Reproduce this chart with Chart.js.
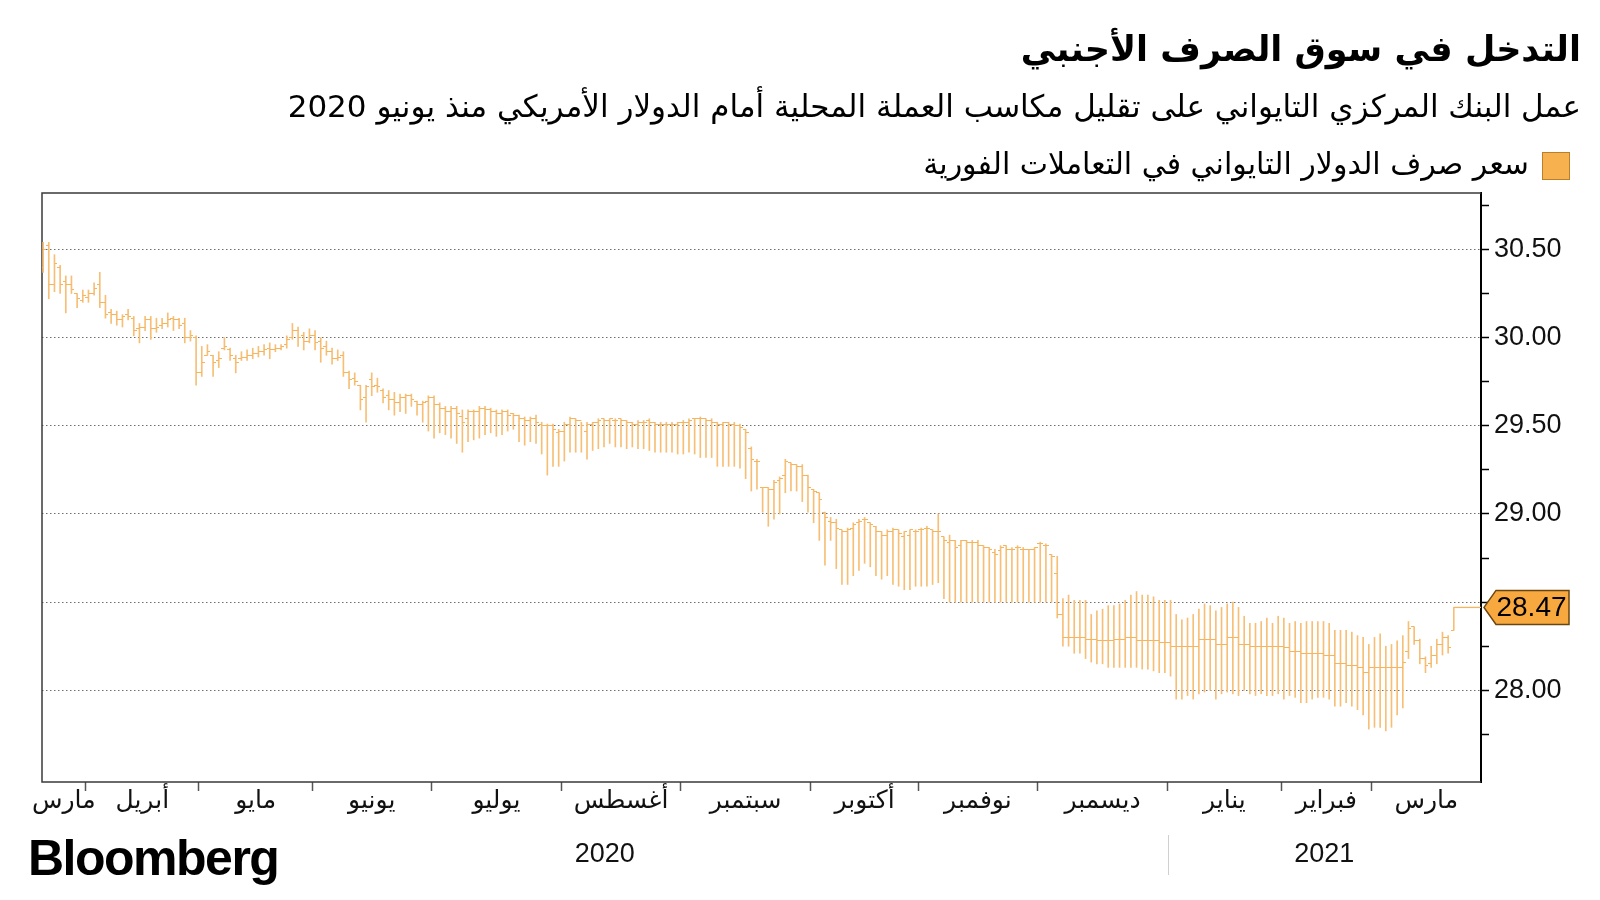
<!DOCTYPE html>
<html><head><meta charset="utf-8">
<script src="https://cdn.jsdelivr.net/npm/chart.js@4.4.1/dist/chart.umd.min.js"></script>
<style>
html,body{margin:0;padding:0;background:#fff;width:1600px;height:900px;overflow:hidden;}
#wrap{position:relative;width:1600px;height:900px;}
#c{position:absolute;left:0;top:0;}
.t{position:absolute;right:19px;direction:rtl;font-family:'DejaVu Sans',sans-serif;color:#000;white-space:nowrap;line-height:1;}
#title{top:32px;font-size:35px;font-weight:bold;}
#sub{top:91px;font-size:31px;}
#legend{top:149px;font-size:30px;right:30px;}
#legend .sw{display:inline-block;width:28px;height:28px;background:#f7b24f;border:1.5px solid #b97f2a;vertical-align:middle;margin-left:13px;box-sizing:border-box;}
#logo{position:absolute;left:28px;top:833px;font-family:'Liberation Sans',Arial,sans-serif;font-weight:bold;font-size:50px;letter-spacing:-1.5px;line-height:1;color:#000;}
</style></head>
<body><div id="wrap">
<canvas id="c" width="1600" height="900"></canvas>
<div class="t" id="title">التدخل في سوق الصرف الأجنبي</div>
<div class="t" id="sub">عمل البنك المركزي التايواني على تقليل مكاسب العملة المحلية أمام الدولار الأمريكي منذ يونيو 2020</div>
<div class="t" id="legend"><span class="sw"></span>سعر صرف الدولار التايواني في التعاملات الفورية</div>
<div id="logo">Bloomberg</div>
</div>
<script>
const months = ['مارس','أبريل','مايو','يونيو','يوليو','أغسطس','سبتمبر','أكتوبر','نوفمبر','ديسمبر','يناير','فبراير','مارس'];
const monthDays = [8,20,20,21,23,21,23,19,21,23,20,16,15];
const years = ['2020','2021'];
const yearMonthCount = [10,3];
const yTicks = [28.00,28.50,29.00,29.50,30.00,30.50];

const high = [
30.54,30.54,30.47,30.41,30.35,30.35,30.25,30.27,30.27,30.31,
30.37,30.24,30.16,30.15,30.13,30.16,30.12,30.08,30.12,30.12,
30.11,30.11,30.14,30.12,30.11,30.11,30.04,30.01,29.95,29.96,
29.90,29.92,30.00,29.94,29.90,29.92,29.93,29.94,29.95,29.96,
29.97,29.96,29.96,30.01,30.08,30.06,30.03,30.05,30.04,30.00,
29.98,29.94,29.93,29.92,29.81,29.80,29.73,29.73,29.80,29.77,
29.71,29.70,29.69,29.68,29.68,29.68,29.64,29.64,29.67,29.67,
29.63,29.61,29.61,29.61,29.59,29.59,29.59,29.61,29.61,29.60,
29.59,29.59,29.59,29.57,29.56,29.55,29.55,29.56,29.52,29.51,
29.51,29.48,29.52,29.55,29.54,29.52,29.52,29.52,29.54,29.54,
29.54,29.54,29.54,29.53,29.52,29.53,29.53,29.54,29.52,29.52,
29.52,29.52,29.52,29.53,29.54,29.54,29.55,29.54,29.54,29.52,
29.52,29.52,29.52,29.51,29.48,29.38,29.31,29.15,29.15,29.19,
29.21,29.31,29.29,29.28,29.28,29.22,29.14,29.12,29.01,28.98,
28.97,28.91,28.92,28.95,28.97,28.98,28.95,28.93,28.90,28.91,
28.92,28.91,28.90,28.91,28.91,28.92,28.93,28.91,29.00,28.87,
28.88,28.85,28.85,28.85,28.85,28.85,28.82,28.81,28.80,28.82,
28.82,28.81,28.82,28.81,28.80,28.81,28.84,28.83,28.77,28.76,
28.52,28.54,28.51,28.51,28.51,28.43,28.45,28.46,28.48,28.48,
28.49,28.51,28.54,28.56,28.54,28.54,28.53,28.51,28.51,28.51,
28.43,28.40,28.41,28.43,28.46,28.49,28.48,28.45,28.47,28.49,
28.50,28.47,28.42,28.38,28.38,28.39,28.41,28.38,28.42,28.41,
28.38,28.39,28.38,28.39,28.39,28.39,28.39,28.38,28.34,28.34,
28.34,28.33,28.31,28.30,28.26,28.30,28.32,28.25,28.26,28.28,
28.31,28.39,28.36,28.29,28.19,28.25,28.29,28.33,28.31,28.47];

const low = [
30.37,30.22,30.26,30.25,30.14,30.25,30.17,30.20,30.20,30.24,
30.17,30.11,30.08,30.07,30.06,30.10,30.01,29.97,30.04,29.99,
30.03,30.05,30.06,30.04,30.05,29.97,29.98,29.73,29.78,29.90,
29.78,29.83,29.93,29.87,29.80,29.87,29.87,29.88,29.89,29.90,
29.88,29.92,29.93,29.94,29.99,29.95,29.93,29.97,29.93,29.86,
29.90,29.85,29.87,29.78,29.71,29.73,29.59,29.52,29.67,29.69,
29.63,29.59,29.56,29.58,29.57,29.61,29.56,29.52,29.47,29.43,
29.46,29.45,29.43,29.40,29.35,29.41,29.42,29.43,29.45,29.46,
29.44,29.45,29.47,29.48,29.41,29.39,29.41,29.40,29.34,29.22,
29.27,29.27,29.30,29.35,29.35,29.35,29.31,29.36,29.37,29.38,
29.40,29.38,29.38,29.37,29.38,29.37,29.37,29.36,29.35,29.35,
29.35,29.35,29.34,29.34,29.35,29.34,29.32,29.32,29.32,29.27,
29.27,29.27,29.27,29.26,29.20,29.13,29.14,29.01,28.93,28.97,
29.00,29.12,29.13,29.13,29.07,29.01,28.95,28.85,28.71,28.85,
28.69,28.60,28.60,28.65,28.68,28.72,28.70,28.65,28.63,28.65,
28.60,28.59,28.57,28.57,28.59,28.59,28.59,28.60,28.61,28.52,
28.50,28.50,28.50,28.50,28.50,28.50,28.50,28.50,28.50,28.50,
28.50,28.50,28.50,28.50,28.50,28.50,28.50,28.50,28.50,28.41,
28.25,28.25,28.21,28.21,28.18,28.16,28.15,28.15,28.13,28.13,
28.13,28.13,28.13,28.13,28.12,28.12,28.11,28.10,28.10,28.08,
27.95,27.95,27.97,27.95,27.98,27.99,28.00,27.95,27.98,27.99,
27.98,27.97,28.00,27.98,27.97,27.98,27.97,27.97,27.98,27.95,
27.97,27.96,27.93,27.93,27.95,27.96,27.96,27.95,27.91,27.91,
27.93,27.91,27.89,27.86,27.78,27.79,27.79,27.77,27.79,27.86,
27.90,28.18,28.26,28.15,28.10,28.13,28.15,28.20,28.21,28.34];

const open = [
30.40,30.52,30.30,30.40,30.32,30.30,30.25,30.21,30.23,30.25,
30.30,30.20,30.14,30.13,30.10,30.13,30.11,30.05,30.06,30.10,
30.05,30.07,30.08,30.11,30.10,30.08,30.00,30.00,29.80,29.90,
29.90,29.87,29.94,29.93,29.88,29.88,29.89,29.90,29.91,29.92,
29.94,29.93,29.94,29.96,30.00,30.04,30.01,29.98,30.01,29.98,
29.95,29.92,29.88,29.90,29.80,29.77,29.73,29.66,29.76,29.73,
29.70,29.67,29.65,29.63,29.66,29.67,29.64,29.62,29.64,29.66,
29.62,29.60,29.58,29.60,29.55,29.54,29.58,29.58,29.60,29.59,
29.58,29.57,29.58,29.57,29.56,29.54,29.53,29.54,29.51,29.50,
29.50,29.46,29.47,29.51,29.54,29.53,29.47,29.51,29.52,29.54,
29.53,29.53,29.54,29.53,29.52,29.51,29.52,29.53,29.52,29.51,
29.51,29.51,29.51,29.52,29.52,29.54,29.54,29.54,29.53,29.52,
29.51,29.52,29.51,29.50,29.48,29.37,29.30,29.15,29.15,29.14,
29.19,29.22,29.29,29.28,29.27,29.22,29.14,29.12,29.01,28.96,
28.95,28.91,28.90,28.92,28.95,28.97,28.95,28.93,28.90,28.88,
28.90,28.91,28.87,28.88,28.90,28.91,28.92,28.91,28.90,28.87,
28.84,28.85,28.82,28.85,28.84,28.84,28.82,28.81,28.78,28.79,
28.82,28.80,28.81,28.80,28.80,28.80,28.83,28.82,28.77,28.66,
28.43,28.30,28.30,28.30,28.30,28.29,28.29,28.28,28.28,28.28,
28.29,28.29,28.30,28.30,28.28,28.28,28.28,28.28,28.27,28.27,
28.25,28.25,28.25,28.25,28.25,28.29,28.29,28.29,28.26,28.26,
28.30,28.30,28.26,28.26,28.25,28.25,28.25,28.25,28.25,28.25,
28.24,28.22,28.22,28.21,28.21,28.21,28.21,28.20,28.20,28.15,
28.15,28.14,28.14,28.13,28.10,28.13,28.13,28.13,28.13,28.13,
28.13,28.22,28.36,28.28,28.18,28.15,28.20,28.26,28.30,28.34];

const close = [
30.50,30.30,30.42,30.30,30.30,30.27,30.22,30.24,30.25,30.28,
30.20,30.13,30.13,30.10,30.12,30.12,30.04,30.06,30.10,30.05,
30.06,30.08,30.10,30.10,30.07,30.00,30.01,29.80,29.86,29.92,
29.86,29.88,29.95,29.90,29.86,29.89,29.90,29.91,29.92,29.93,
29.93,29.94,29.95,29.99,30.04,30.00,29.98,30.01,29.97,29.94,
29.92,29.88,29.89,29.80,29.76,29.75,29.65,29.72,29.72,29.72,
29.66,29.65,29.63,29.66,29.67,29.65,29.62,29.63,29.66,29.62,
29.60,29.58,29.60,29.57,29.52,29.58,29.58,29.60,29.59,29.58,
29.57,29.58,29.56,29.56,29.54,29.53,29.54,29.52,29.50,29.50,
29.48,29.47,29.51,29.54,29.53,29.50,29.51,29.52,29.53,29.53,
29.54,29.53,29.53,29.52,29.51,29.52,29.52,29.52,29.51,29.51,
29.51,29.51,29.52,29.52,29.53,29.54,29.54,29.53,29.52,29.51,
29.52,29.51,29.50,29.49,29.46,29.31,29.30,29.15,29.14,29.18,
29.20,29.30,29.28,29.27,29.22,29.15,29.13,29.08,28.98,28.95,
28.92,28.90,28.91,28.94,28.96,28.97,28.94,28.90,28.88,28.90,
28.91,28.89,28.90,28.91,28.90,28.91,28.92,28.90,28.90,28.85,
28.85,28.81,28.85,28.84,28.84,28.82,28.81,28.80,28.77,28.81,
28.80,28.80,28.81,28.80,28.80,28.81,28.83,28.82,28.76,28.43,
28.30,28.30,28.30,28.30,28.29,28.29,28.28,28.28,28.28,28.29,
28.29,28.30,28.30,28.28,28.28,28.28,28.28,28.27,28.27,28.25,
28.25,28.25,28.25,28.25,28.29,28.29,28.29,28.26,28.26,28.30,
28.30,28.26,28.26,28.25,28.25,28.25,28.25,28.25,28.25,28.24,
28.22,28.22,28.21,28.21,28.21,28.21,28.20,28.20,28.15,28.15,
28.14,28.14,28.13,28.10,28.13,28.13,28.13,28.13,28.13,28.13,
28.16,28.35,28.28,28.18,28.14,28.20,28.26,28.30,28.24,28.47];

// ---- derived helpers ----
const nBars = high.length;
const xMin = -0.2, xMax = nBars + 3.8;
const bounds = [];
let acc = 0;
monthDays.forEach((d,i)=>{ if(i>0) bounds.push(acc-0.5); acc += d; });
const edges = [xMin].concat(bounds).concat([xMax]);
const monthMid = months.map((m,i)=>(edges[i]+edges[i+1])/2);
const yearEdges = [xMin, edges[yearMonthCount[0]], xMax];
const yearMid = years.map((y,i)=>(yearEdges[i]+yearEdges[i+1])/2);
const yearSep = edges[yearMonthCount[0]];
const yMinor = yTicks.map(v=>v+0.25).concat([yTicks[0]-0.25]);

const barColor = '#f7bf76';
function tickImg(side){
  const c = document.createElement('canvas'); c.width = 6; c.height = 1;
  const g = c.getContext('2d'); g.fillStyle = '#f5b560';
  if(side==='L') g.fillRect(0,0,3,1); else g.fillRect(3,0,3,1);
  return c;
}
const leftTick = tickImg('L'), rightTick = tickImg('R');

const framePlugin = {
  id:'frame',
  beforeDatasetsDraw(chart){
    const a = chart.chartArea, ctx = chart.ctx;
    ctx.save(); ctx.strokeStyle = '#3a3a3a'; ctx.lineWidth = 1.5;
    ctx.beginPath();
    ctx.moveTo(a.right, a.top); ctx.lineTo(a.left, a.top); ctx.lineTo(a.left, a.bottom); ctx.lineTo(a.right, a.bottom);
    ctx.stroke(); ctx.restore();
  },
  afterDraw(chart){
    const ctx = chart.ctx, ys = chart.scales.y, xs = chart.scales.xYear, a = chart.chartArea;
    const sx = Math.round(xs.getPixelForValue(yearSep)) + 0.5;
    ctx.save(); ctx.strokeStyle = '#d0d0d0'; ctx.lineWidth = 1;
    ctx.beginPath(); ctx.moveTo(sx, xs.top + 17); ctx.lineTo(sx, xs.top + 57); ctx.stroke();
    const last = close[nBars-1];
    const py = ys.getPixelForValue(last);
    const x0 = a.right + 3, x1 = x0 + 12, x2 = x0 + 85, h = 17;
    ctx.beginPath();
    ctx.moveTo(x0, py); ctx.lineTo(x1, py - h); ctx.lineTo(x2, py - h); ctx.lineTo(x2, py + h); ctx.lineTo(x1, py + h); ctx.closePath();
    ctx.fillStyle = '#f7a93f'; ctx.fill();
    ctx.strokeStyle = '#6b4511'; ctx.lineWidth = 1.5; ctx.stroke();
    ctx.fillStyle = '#000'; ctx.font = '28px "Liberation Sans", Arial, sans-serif';
    ctx.textAlign = 'center'; ctx.textBaseline = 'middle';
    ctx.fillText(last.toFixed(2), (x1 + x2)/2 - 1, py + 1);
    ctx.restore();
  }
};

new Chart(document.getElementById('c'), {
  type:'bar',
  data:{
    datasets:[
      {type:'bar', data: high.map((h,i)=>({x:i, y:[low[i], h]})), backgroundColor: barColor, borderWidth:0,
       barThickness:1, grouped:false, xAxisID:'x', yAxisID:'y', order:3},
      {type:'line', data: open.map((v,i)=>({x:i, y:v})), showLine:false, pointStyle:leftTick, pointRadius:2,
       pointHoverRadius:2, xAxisID:'x', yAxisID:'y', order:2},
      {type:'line', data: close.map((v,i)=>({x:i, y:v})), showLine:false, pointStyle:rightTick, pointRadius:2,
       pointHoverRadius:2, xAxisID:'x', yAxisID:'y', order:2},
      {type:'line', data:[{x:nBars-1, y:close[nBars-1]},{x:xMax, y:close[nBars-1]}], borderColor: '#f5b560',
       borderWidth:1.3, pointRadius:0, xAxisID:'x', yAxisID:'y', order:1}
    ]
  },
  options:{
    responsive:false, animation:false, devicePixelRatio:1,
    layout:{padding:{left:42, top:193, right:0, bottom:26}},
    plugins:{legend:{display:false}, tooltip:{enabled:false}},
    scales:{
      x:{type:'linear', position:'bottom', min:xMin, max:xMax, offset:false,
         afterBuildTicks:s=>{ s.ticks = bounds.map(v=>({value:v})); },
         afterFit:s=>{ s.height = 0; },
         grid:{offset:false, drawOnChartArea:false, drawTicks:true, tickLength:9, tickColor:'#555', tickWidth:1.5},
         border:{display:false}, ticks:{display:false}},
      xMonth:{type:'linear', position:'bottom', min:xMin, max:xMax, offset:false,
         afterBuildTicks:s=>{ s.ticks = monthMid.map(v=>({value:v})); },
         afterFit:s=>{ s.height = 36; },
         grid:{display:false}, border:{display:false},
         ticks:{autoSkip:false, maxRotation:0, padding:-4, color:'#111',
                font:{family:'DejaVu Sans', size:25},
                callback:(v,i)=>months[i]}},
      xYear:{type:'linear', position:'bottom', min:xMin, max:xMax, offset:false,
         afterBuildTicks:s=>{ s.ticks = yearMid.map(v=>({value:v})); },
         afterFit:s=>{ s.height = 56; },
         grid:{display:false}, border:{display:false},
         ticks:{autoSkip:false, maxRotation:0, padding:12, color:'#111',
                font:{family:'Liberation Sans', size:27},
                callback:(v,i)=>years[i]}},
      y:{type:'linear', position:'right', min:27.48, max:30.82,
         afterBuildTicks:s=>{ s.ticks = yTicks.concat(yMinor).sort((a,b)=>a-b).map(v=>({value:v})); },
         afterFit:s=>{ s.width = 119; },
         grid:{drawOnChartArea:true, color:c=>yTicks.some(t=>Math.abs(t-c.tick.value)<1e-6)?'#6e6e6e':'rgba(0,0,0,0)',
               lineWidth:1, tickLength:8, tickColor:'#000', tickWidth:1.5},
         border:{display:true, color:'#000', width:2, dash:[1.5,2.5]},
         ticks:{padding:5, color:'#111', font:{family:'Liberation Sans', size:27},
                callback:v=>yTicks.some(t=>Math.abs(t-v)<1e-6)?v.toFixed(2):''}}
    }
  },
  plugins:[framePlugin]
});
</script>
</body></html>
